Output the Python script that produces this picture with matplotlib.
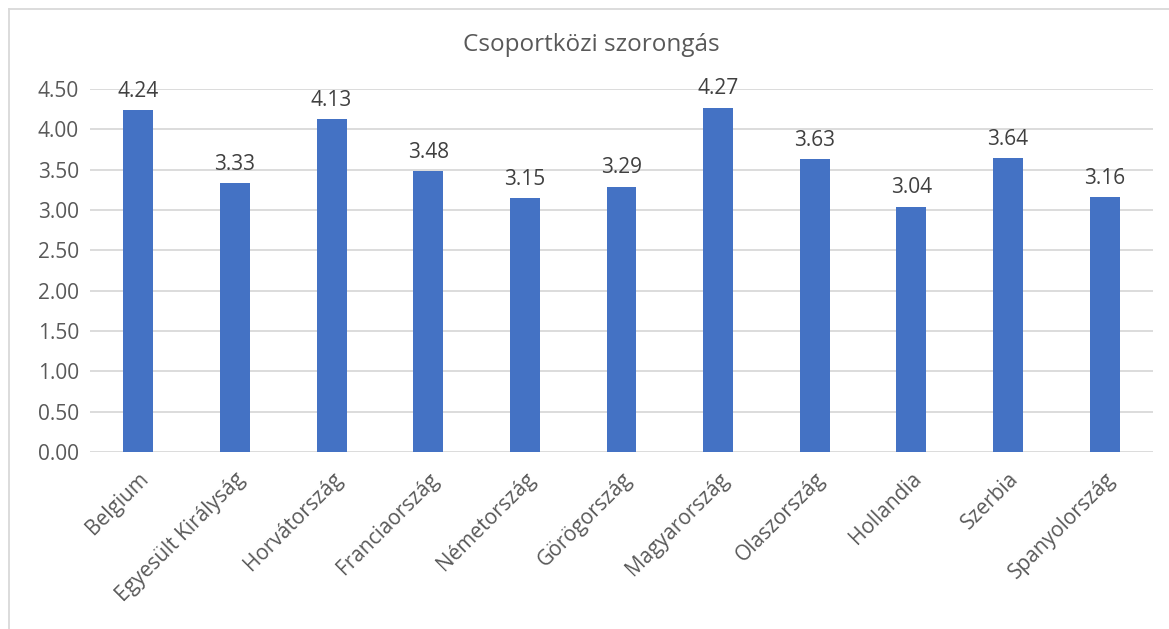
import matplotlib
matplotlib.use("Agg")
import matplotlib.pyplot as plt
from matplotlib.lines import Line2D

categories = ["Belgium", "Egyesült Királyság", "Horvátország", "Franciaország",
              "Németország", "Görögország", "Magyarország", "Olaszország",
              "Hollandia", "Szerbia", "Spanyolország"]
values = [4.24, 3.33, 4.13, 3.48, 3.15, 3.29, 4.27, 3.63, 3.04, 3.64, 3.16]
yticks = [0.0, 0.5, 1.0, 1.5, 2.0, 2.5, 3.0, 3.5, 4.0, 4.5]
title = "Csoportközi szorongás"

plt.rcParams['font.family'] = ['Open Sans', 'DejaVu Sans']

W, H = 1169, 629
fig = plt.figure(figsize=(W / 100, H / 100), dpi=100)
ax = fig.add_axes([90 / W, 1 - 452 / H, (1153 - 90) / W, (452 - 89) / H])

x = list(range(len(categories)))
bars = ax.bar(x, values, width=0.31, color="#4472C4", zorder=3)
for xi, v in zip(x, values):
    ax.annotate(f"{v:.2f}", (xi, v), xytext=(0, 6), textcoords="offset points",
                ha="center", va="bottom", fontsize=15, color="#404040")

ax.set_xlim(-0.5, len(categories) - 0.5)
ax.set_ylim(0, 4.5)
ax.set_yticks(yticks)
ax.set_yticklabels([f"{t:.2f}" for t in yticks], fontsize=15, color="#595959")
ax.set_xticks(x)
ax.set_xticklabels(categories, rotation=45, ha="right", va="top",
                   rotation_mode="anchor", fontsize=15, color="#595959")
ax.tick_params(axis="both", length=0, pad=8)
ax.tick_params(axis="x", pad=12)
ax.grid(axis="y", color="#D9D9D9", linewidth=1.3, zorder=0)
for s in ax.spines.values():
    s.set_visible(False)

fig.text(591 / W, 1 - 45 / H, title, ha="center", va="center",
         fontsize=17.5, color="#595959")

# chart border
fig.add_artist(Line2D([8.5 / W, 8.5 / W], [0, 1 - 8.5 / H], transform=fig.transFigure,
                      color="#D9D9D9", linewidth=1.3))
fig.add_artist(Line2D([8.5 / W, 1], [1 - 8.5 / H, 1 - 8.5 / H], transform=fig.transFigure,
                      color="#D9D9D9", linewidth=1.3))

fig.savefig("out.png", dpi=100)
